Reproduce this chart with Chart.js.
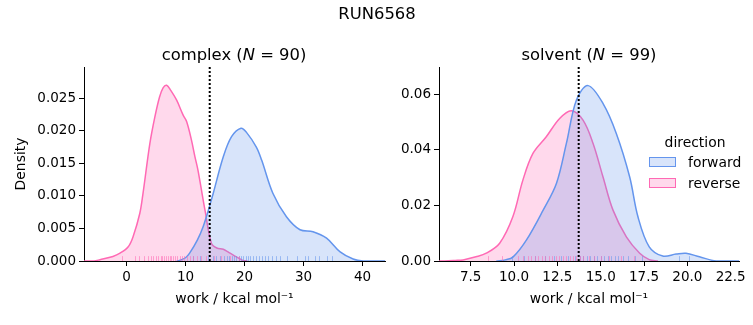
<!DOCTYPE html>
<html>
<head>
  <title>RUN6568 work distributions</title>
  <script src="https://cdn.jsdelivr.net/npm/chart.js"></script>
  <style>
    body { margin: 0; background: #fff; font-family: "DejaVu Sans", sans-serif; }
    #fig { position: relative; width: 753px; height: 325px; background: #fff; overflow: hidden; }
    canvas { position: absolute; top: 0; }
    .lbl { position: absolute; white-space: nowrap; transform: translate(-50%, -50%); color: #000; }
    .title { font-size: 16.4px; }
    .leg { font-size: 13.9px; }
    .swatch { position: absolute; width: 25px; height: 8px; border-width: 1.5px; border-style: solid; }
  </style>
</head>
<body>
  <div id="fig">
    <canvas id="complexChart" width="395" height="325" style="left:0"></canvas>
    <canvas id="solventChart" width="358" height="325" style="left:395px"></canvas>
    <div class="lbl title" style="left:377px; top:13px">RUN6568</div>
    <div class="lbl title" style="left:234px; top:54px">complex (<i>N</i> = 90)</div>
    <div class="lbl title" style="left:589px; top:54px">solvent (<i>N</i> = 99)</div>
    <div class="lbl leg" style="left:695px; top:142px">direction</div>
    <div class="swatch" style="left:649px; top:157px; border-color:#6495ed; background:rgba(100,149,237,0.25)"></div>
    <div class="lbl leg" style="left:688px; top:162px; transform:translate(0,-50%)">forward</div>
    <div class="swatch" style="left:649px; top:178px; border-color:#ff69b4; background:rgba(255,105,180,0.25)"></div>
    <div class="lbl leg" style="left:688px; top:183px; transform:translate(0,-50%)">reverse</div>
  </div>
  <script>
    // KDE curves (x = work, y = density)
    const complexForwardX = [8.5, 9.0, 10.0, 10.7, 12.0, 13.0, 14.0, 14.7, 16.4, 17.8, 19.4, 20.3, 22.0, 22.9, 24.8, 27.1, 29.4, 31.6, 33.9, 36.2, 38.4, 40.1, 43.8];
    const complexForwardY = [0, 0.0001, 0.0005, 0.0012, 0.0032, 0.0053, 0.0082, 0.0104, 0.0160, 0.0191, 0.0204, 0.0198, 0.0175, 0.0155, 0.0104, 0.0068, 0.0048, 0.0045, 0.0035, 0.0014, 0.0003, 0, 0];
    const complexReverseX = [-7.2, -5.5, -4.5, -2.3, -1.1, 0.3, 1.1, 2.25, 2.8, 3.95, 4.8, 5.6, 6.2, 6.8, 7.5, 8.5, 9.6, 10.2, 11.0, 11.6, 12.1, 13.3, 14.4, 15.3, 16.4, 17.2, 18.1, 19.7, 20.5];
    const complexReverseY = [0, 0, 0.0002, 0.0007, 0.0012, 0.0022, 0.0037, 0.0073, 0.0104, 0.0180, 0.0221, 0.0252, 0.0266, 0.0270, 0.0262, 0.0247, 0.0224, 0.0214, 0.0186, 0.0160, 0.0140, 0.0078, 0.0027, 0.0020, 0.0018, 0.0014, 0.0009, 0.0001, 0];
    const solventForwardX = [8.98, 9.5, 9.95, 10.72, 11.68, 12.45, 13.02, 13.6, 14.27, 15.13, 15.9, 16.67, 17.15, 17.8, 18.58, 19.35, 19.92, 20.7, 21.66, 23.0];
    const solventForwardY = [0, 0.0004, 0.0015, 0.0076, 0.0183, 0.0280, 0.0423, 0.0579, 0.0631, 0.0567, 0.0459, 0.0303, 0.0159, 0.0051, 0.0018, 0.0025, 0.0028, 0.0015, 0, 0];
    const solventReverseX = [5.67, 6.0, 6.6, 7.06, 7.8, 8.4, 9.17, 9.93, 10.51, 11.09, 11.86, 12.63, 13.31, 13.98, 14.56, 15.13, 15.71, 16.48, 17.25, 17.8, 18.3];
    const solventReverseY = [0, 0, 0.0002, 0.0004, 0.0015, 0.0028, 0.0064, 0.0159, 0.0291, 0.0387, 0.0447, 0.0513, 0.0541, 0.0507, 0.0423, 0.0303, 0.0183, 0.0087, 0.0028, 0.0005, 0];

    // rug (individual work values)
    const complexForwardWork = [11.3, 12.5, 13.8, 14.6, 15.2, 15.9, 16.5, 17.0, 17.4, 17.8, 18.2, 18.6, 19.0, 19.4, 19.8, 20.2, 20.6, 21.0, 21.5, 22.0, 22.4, 22.9, 23.5, 24.0, 24.6, 25.3, 26.0, 27.2, 28.9, 30.2, 30.8, 32.0, 32.6, 34.0, 34.9];
    const complexReverseWork = [-0.7, 1.5, 2.2, 3.0, 3.6, 4.1, 4.5, 5.0, 5.3, 5.8, 6.1, 6.4, 6.7, 7.0, 7.3, 7.6, 7.9, 8.2, 8.6, 9.0, 9.4, 9.8, 10.3, 10.8, 11.3, 12.0, 12.6, 13.5, 14.8, 16.0, 17.5, 19.0];
    const solventForwardWork = [9.9, 10.6, 11.2, 11.8, 12.3, 12.7, 13.1, 13.5, 13.8, 14.0, 14.2, 14.4, 14.6, 14.8, 15.0, 15.2, 15.4, 15.6, 15.8, 16.0, 16.3, 16.6, 17.0, 17.4, 19.5, 20.1];
    const solventReverseWork = [8.5, 9.3, 10.2, 10.5, 10.8, 11.0, 11.2, 11.4, 11.6, 11.8, 12.0, 12.2, 12.4, 12.6, 12.8, 13.0, 13.2, 13.4, 13.6, 13.8, 14.0, 14.3, 14.6, 15.0, 15.5, 16.2, 16.9];

    // dotted line position
    const complexMarker = 14.1;
    const solventMarker = 13.73;

    // axes
    const complexXRange = [-7.2, 43.8];
    const complexYMax = 0.0298;
    const complexXTicks = [0, 10, 20, 30, 40];
    const complexYTicks = [0, 0.005, 0.010, 0.015, 0.020, 0.025];
    const solventXRange = [5.67, 22.98];
    const solventYMax = 0.0698;
    const solventXTicks = [7.5, 10.0, 12.5, 15.0, 17.5, 20.0, 22.5];
    const solventYTicks = [0, 0.02, 0.04, 0.06];

    const BLUE = '#6495ed';
    const PINK = '#ff69b4';
    const tickFont = { family: 'DejaVu Sans', size: 13.5 };

    const rugPlugin = {
      id: 'rug',
      afterDatasetsDraw(chart, args, opts) {
        const { ctx, chartArea } = chart;
        const x = chart.scales.x;
        ctx.save();
        ctx.lineWidth = 1;
        for (const s of opts.series) {
          ctx.strokeStyle = s.color;
          for (const v of s.values) {
            const px = Math.round(x.getPixelForValue(v)) + 0.5;
            ctx.beginPath();
            ctx.moveTo(px, chartArea.bottom);
            ctx.lineTo(px, chartArea.bottom - 0.025 * chartArea.height);
            ctx.stroke();
          }
        }
        ctx.restore();
      }
    };

    function pts(xs, ys) {
      return xs.map((x, i) => ({ x: x, y: ys[i] }));
    }

    function kde(xs, ys, color, fillColor) {
      return {
        data: pts(xs, ys),
        borderColor: color,
        backgroundColor: fillColor,
        borderWidth: 1.5,
        fill: 'origin',
        pointRadius: 0,
        tension: 0.35
      };
    }

    function makeChart(id, o) {
      const fixTicks = vals => scale => { scale.ticks = vals.map(v => ({ value: v })); };
      new Chart(document.getElementById(id), {
        type: 'line',
        data: {
          datasets: [
            {
              data: [{ x: o.marker, y: 0 }, { x: o.marker, y: o.yMax }],
              borderColor: '#000',
              borderWidth: 2,
              borderDash: [2, 2],
              pointRadius: 0,
              fill: false
            },
            kde(o.fx, o.fy, BLUE, 'rgba(100,149,237,0.25)'),
            kde(o.rx, o.ry, PINK, 'rgba(255,105,180,0.25)')
          ]
        },
        options: {
          responsive: false,
          animation: false,
          events: [],
          layout: { padding: { top: 67, right: o.padRight, left: 0, bottom: 0 } },
          plugins: {
            legend: { display: false },
            tooltip: { enabled: false },
            rug: { series: [
              { values: o.fw, color: 'rgba(100,149,237,0.55)' },
              { values: o.rw, color: 'rgba(255,105,180,0.55)' }
            ] }
          },
          scales: {
            x: {
              type: 'linear',
              min: o.xRange[0],
              max: o.xRange[1],
              afterBuildTicks: fixTicks(o.xTicks),
              afterFit: s => { s.height = 64; },
              grid: { drawOnChartArea: false, tickLength: 5, tickColor: '#000' },
              border: { color: '#000', width: 1 },
              ticks: { color: '#000', font: tickFont, padding: 3, maxRotation: 0, callback: o.xFmt },
              title: { display: true, text: 'work / kcal mol⁻¹', color: '#000', font: { family: 'DejaVu Sans', size: 13.9 }, padding: { top: 0, bottom: 17 } }
            },
            y: {
              type: 'linear',
              min: 0,
              max: o.yMax,
              afterBuildTicks: fixTicks(o.yTicks),
              afterFit: s => { s.width = o.yWidth; },
              grid: { drawOnChartArea: false, tickLength: 5, tickColor: '#000' },
              border: { color: '#000', width: 1 },
              ticks: { color: '#000', font: tickFont, padding: 3, callback: o.yFmt },
              title: { display: o.yTitle, text: 'Density', color: '#000', font: { family: 'DejaVu Sans', size: 13.9 }, padding: { top: 13, bottom: 0 } }
            }
          }
        },
        plugins: [rugPlugin]
      });
    }

    makeChart('complexChart', {
      fx: complexForwardX, fy: complexForwardY, rx: complexReverseX, ry: complexReverseY,
      fw: complexForwardWork, rw: complexReverseWork,
      marker: complexMarker, xRange: complexXRange, yMax: complexYMax,
      xTicks: complexXTicks, yTicks: complexYTicks,
      xFmt: v => String(v), yFmt: v => v.toFixed(3),
      yWidth: 84, padRight: 10, yTitle: true
    });

    makeChart('solventChart', {
      fx: solventForwardX, fy: solventForwardY, rx: solventReverseX, ry: solventReverseY,
      fw: solventForwardWork, rw: solventReverseWork,
      marker: solventMarker, xRange: solventXRange, yMax: solventYMax,
      xTicks: solventXTicks, yTicks: solventYTicks,
      xFmt: v => v.toFixed(1), yFmt: v => v.toFixed(2),
      yWidth: 44, padRight: 14, yTitle: false
    });
  </script>
</body>
</html>
